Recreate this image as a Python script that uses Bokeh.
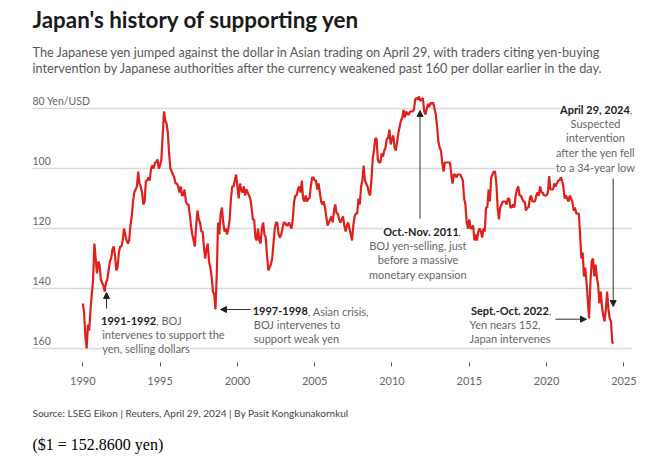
from bokeh.plotting import figure
from bokeh.models import Range1d, FixedTicker, Label, Arrow, NormalHead, ColumnDataSource, Title
from bokeh.core.properties import value
from bokeh.embed import file_html
from bokeh.resources import INLINE

# ---------------- data ----------------
first_year = 1990
# USD/JPY, monthly (Jan..Dec)
monthly_rate = [
    145, 148, 156, 160, 152, 154, 147, 142, 137, 125, 130, 135,   # 1990
    131, 132, 137, 138, 139, 141, 138, 137, 134, 131, 130, 127,   # 1991
    126, 129, 134, 133, 128, 126, 126, 124, 120, 122, 124, 125,   # 1992
    124, 119, 116, 111, 108, 107, 106, 101, 105, 106, 108, 112,   # 1993
    111, 104, 104, 103, 104, 100, 99, 100, 98, 98, 97, 100,       # 1994
    99, 97, 89, 81, 84, 85, 88, 95, 100, 101, 102, 103,           # 1995
    105, 105, 106, 108, 106, 109, 109, 107, 111, 112, 112, 115,   # 1996
    119, 122, 124, 126, 119, 114, 117, 118, 121, 121, 126, 130,   # 1997
    127, 125, 131, 133, 136, 141, 142, 147, 135, 118, 122, 115,   # 1998
    113, 118, 121, 120, 122, 120, 117, 110, 106, 106, 104, 102,   # 1999
    106, 110, 105, 107, 108, 106, 109, 107, 108, 109, 110, 113,   # 2000
    117, 117, 123, 124, 120, 124, 125, 120, 118, 122, 123, 129,   # 2001
    134, 133, 132, 130, 125, 120, 118, 118, 122, 123, 122, 120,   # 2002
    118, 118, 119, 119, 118, 119, 120, 117, 111, 109, 109, 107,   # 2003
    106, 108, 104, 110, 111, 109, 111, 110, 110, 106, 103, 103,   # 2004
    104, 104, 107, 105, 108, 111, 112, 111, 113, 116, 119, 118,   # 2005
    117, 116, 118, 114, 112, 115, 115, 117, 118, 117, 116, 119,   # 2006
    121, 119, 118, 120, 122, 124, 119, 116, 115, 115, 110, 112,   # 2007
    106, 104, 99, 104, 105, 106, 108, 109, 104, 97, 94, 90,       # 2008
    90, 97, 98, 98, 95, 96, 94, 93, 90, 90, 87, 92,               # 2009
    90, 89, 93, 94, 91, 88, 86, 84, 83, 80.5, 83, 81,             # 2010
    82, 82, 81, 81, 81, 80.5, 77, 76.5, 77, 76, 77.5, 77,         # 2011
    76.5, 81, 82, 80, 78.5, 79.5, 78, 78.5, 78, 80, 82, 86,       # 2012
    91, 93, 94, 98, 101, 98, 98, 98, 98, 98, 102, 105,            # 2013
    102, 102, 103, 102, 102, 102, 103, 104, 110, 112, 118, 120,   # 2014
    117, 120, 120, 119, 124, 122, 124, 121, 120, 121, 123, 120,   # 2015
    121, 113, 113, 107, 111, 103, 102, 101, 101, 105, 113, 117,   # 2016
    113, 112, 111, 111, 111, 112, 110, 110, 113, 113, 112, 113,   # 2017
    109, 107, 106, 109, 109, 110, 111, 111, 114, 113, 113, 110,   # 2018
    109, 111, 111, 111, 109, 108, 109, 106, 108, 108, 109, 109,   # 2019
    109, 108, 102.5, 107, 107, 107, 105, 106, 105, 104, 104, 103, # 2020
    104, 106, 110, 109, 110, 111, 109, 110, 111, 114, 113, 115,   # 2021
    115, 115, 122, 130, 128, 136, 133, 138, 144, 150, 138, 131,   # 2022
    130, 136, 132, 136, 139, 145, 141, 146, 149, 151, 147, 141,   # 2023
    147, 150, 151, 158,                                           # 2024
]
last_year = [2024.33]
last_rate = [158.3]

x_ticks = [1990, 1995, 2000, 2005, 2010, 2015, 2020, 2025]
y_ticks = [80, 100, 120, 140, 160]
y_tick_labels = ["80 Yen/USD", "100", "120", "140", "160"]

title_text = "Japan's history of supporting yen"
subtitle_lines = [
    "The Japanese yen jumped against the dollar in Asian trading on April 29, with traders citing yen-buying",
    "intervention by Japanese authorities after the currency weakened past 160 per dollar earlier in the day.",
]
source_text = "Source: LSEG Eikon | Reuters, April 29, 2024 | By Pasit Kongkunakornkul"
footer_text = "($1 = 152.8600 yen)"

dates = [first_year + i / 12 for i in range(len(monthly_rate))] + last_year
rates = monthly_rate + last_rate

# ---------------- figure ----------------
FONT = "Lato"
RED = "#e0201b"
GRAY = "#666666"
DARK = "#222222"
GRID_START, GRID_END = 1986.746, 2025.556   # horizontal extent of the gridlines (years)

# frame spans the whole width and runs from the top of the page down to the x-axis
p = figure(width=665, height=465, output_backend="svg", toolbar_location=None,
           x_range=Range1d(1984.677, 2027.691), y_range=Range1d(164.667, 44.0),
           min_border_left=0, min_border_right=0, min_border_top=0, min_border_bottom=103)
p.outline_line_color = None
p.background_fill_color = "white"
p.border_fill_color = "white"

p.yaxis.visible = False
p.ygrid.grid_line_color = None
p.xgrid.grid_line_color = None

p.xaxis.ticker = FixedTicker(ticks=x_ticks)
p.xaxis.axis_line_color = None
p.xaxis.major_tick_in = 0
p.xaxis.major_tick_out = 4
p.xaxis.major_tick_line_color = "#555555"
p.xaxis.minor_tick_line_color = None
p.xaxis.major_label_text_font = FONT
p.xaxis.major_label_text_font_size = "11px"
p.xaxis.major_label_text_color = GRAY
p.xaxis.major_label_standoff = 10

# source and footer lines below the axis
p.add_layout(Title(text=source_text, align="left", offset=32, standoff=34,
                   vertical_align="bottom", text_font=FONT, text_font_size="10px",
                   text_font_style="normal", text_color="#444444"), "below")
p.add_layout(Title(text=footer_text, align="left", offset=32, standoff=0,
                   vertical_align="top", text_font="Liberation Serif", text_font_size="16px",
                   text_font_style="normal", text_color="#000000"), "below")

# horizontal gridlines at the y ticks, limited to the chart's width
gsrc = ColumnDataSource(dict(x0=[GRID_START] * len(y_ticks), x1=[GRID_END] * len(y_ticks), y=y_ticks))
p.segment(x0="x0", x1="x1", y0="y", y1="y", source=gsrc, line_color="#d9d9d9", line_width=1.5)

# y tick labels drawn above the gridlines, at their left end
ysrc = ColumnDataSource(dict(x=[GRID_START] * len(y_ticks), y=y_ticks, t=y_tick_labels))
p.text(x="x", y="y", text="t", source=ysrc, text_font=value(FONT), text_font_size="10.5px",
       text_color=GRAY, text_align="left", text_baseline="middle", y_offset=-7)

p.line(dates, rates, line_color=RED, line_width=2.2)

# ------------- annotations (positions in page px, converted to frame screen units) -------------
FB = 362  # frame bottom in page coordinates


def lab(x, y, text, bold=False, align="left", size="11px", color=None, font=FONT, bg=True):
    p.add_layout(Label(x=x, y=FB - y, x_units="screen", y_units="screen", text=text,
                       text_font=font, text_font_size=size,
                       text_font_style="bold" if bold else "normal",
                       text_color=color or (DARK if bold else GRAY),
                       text_align=align, text_baseline="middle",
                       background_fill_color="white" if bg else None))


def arrow(x0, y0, x1, y1):
    p.add_layout(Arrow(x_start=x0, y_start=FB - y0, x_end=x1, y_end=FB - y1,
                       start_units="screen", end_units="screen",
                       line_color="#333333", line_width=1,
                       end=NormalHead(size=6, fill_color="#222222", line_color="#222222")))


# title and subtitle
lab(32, 19, title_text, bold=True, size="22.4px", color="#1a1a1a", bg=False)
lab(32, 51, subtitle_lines[0], size="12.7px", color="#595959", bg=False)
lab(32, 67.5, subtitle_lines[1], size="12.7px", color="#595959", bg=False)

# 1991-1992
lab(155.7, 320, "1991-1992", bold=True, align="right")
lab(155.7, 320, ", BOJ")
lab(101.7, 334, "intervenes to support the")
lab(101.7, 348, "yen, selling dollars")
arrow(106, 308, 106, 292)

# 1997-1998
lab(307.3, 310.7, "1997-1998", bold=True, align="right")
lab(307.3, 310.7, ", Asian crisis,")
lab(253.3, 324.3, "BOJ intervenes to")
lab(253.3, 338.3, "support weak yen")
arrow(250, 309, 220, 309)

# Oct.-Nov. 2011
lab(420.5, 231, "Oct.-Nov. 2011", bold=True, align="center")
lab(457.8, 231, ",")
lab(417.5, 245, "BOJ yen-selling, just", align="center")
lab(417.5, 259.3, "before a massive", align="center")
lab(417.5, 274, "monetary expansion", align="center")
arrow(419.5, 218, 419.5, 110)

# April 29, 2024
lab(629.3, 109, "April 29, 2024", bold=True, align="right")
lab(629.3, 109, ",")
lab(595, 123.3, "Suspected", align="center")
lab(595, 137.3, "intervention", align="center")
lab(595, 152, "after the yen fell", align="center")
lab(595, 166.5, "to a 34-year low", align="center")
arrow(612.7, 178, 612.7, 306)

# Sept.-Oct. 2022
lab(548.3, 310, "Sept.-Oct. 2022", bold=True, align="right")
lab(548.3, 310, ",")
lab(469, 324, "Yen nears 152,")
lab(469, 338.3, "Japan intervenes")
arrow(555, 318.7, 586, 318.7)

open("out.html", "w").write(file_html(p, INLINE))
